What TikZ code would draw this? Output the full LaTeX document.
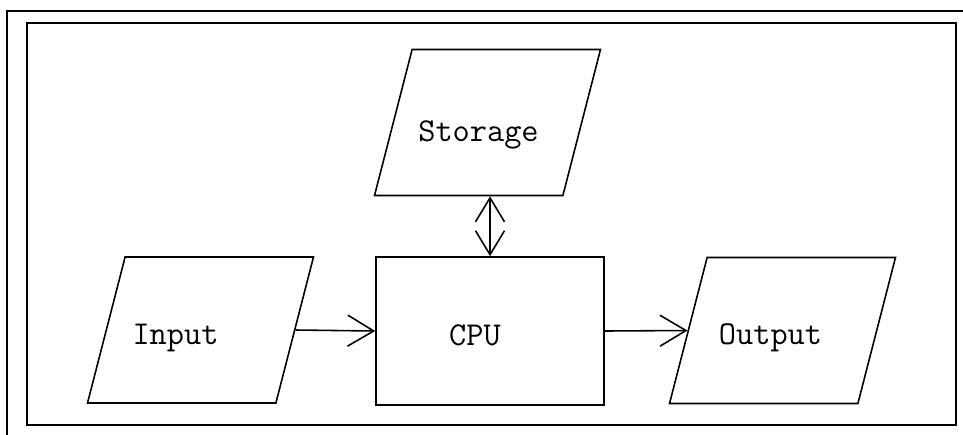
\documentclass[tikz,border=0pt]{standalone}
\usepackage{fontspec}
\usetikzlibrary{arrows.meta,shapes.geometric}
\tikzset{
  frame/.style={line width=1.1pt},
  unit/.style={draw,line width=0.9pt,minimum width=4.56cm,minimum height=2.96cm,inner sep=0pt},
  slanted/.style={draw,line width=0.9pt,trapezium,trapezium left angle=76,trapezium right angle=104,
    trapezium stretches,minimum width=4.52cm,minimum height=2.92cm,inner sep=2pt},
  tag/.style={font=\ttfamily\fontsize{19}{21}\selectfont},
  flow/.style={line width=0.9pt,-{Straight Barb[length=5.2mm,width=6.2mm]}},
  both/.style={line width=0.9pt,{Straight Barb[length=4.8mm,width=5.8mm]}-{Straight Barb[length=4.8mm,width=5.8mm]}},
}
\begin{document}
\begin{tikzpicture}[x=0.02cm,y=-0.02cm]
  \useasboundingbox (0,0) rectangle (963,434);
  \clip (0,0) rectangle (963,434);
  % double frame, the outer one runs off the sheet
  \draw[frame] (7,440) -- (7,11) -- (970,11);
  \draw[frame] (27,23) rectangle (956,425);
  % units
  \node[slanted,label={[tag,xshift=-0.5cm,yshift=-0.16cm]center:Input}] (in) at (200.5,330) {};
  \node[unit,label={[tag,xshift=-0.3cm,yshift=-0.08cm]center:CPU}] (cpu) at (490,331) {};
  \node[slanted,label={[tag,xshift=-0.24cm,yshift=-0.14cm]center:Output}] (out) at (782.5,330.5) {};
  \node[slanted,label={[tag,xshift=-0.18cm,yshift=-0.24cm]center:Storage}] (store) at (487.5,122.5) {};
  % data flow
  \draw[flow] (in.east) -- (cpu.west);
  \draw[flow] (cpu.east) -- (out.west);
  \draw[both] (cpu.north) -- (cpu.north |- store.south);
\end{tikzpicture}
\end{document}
